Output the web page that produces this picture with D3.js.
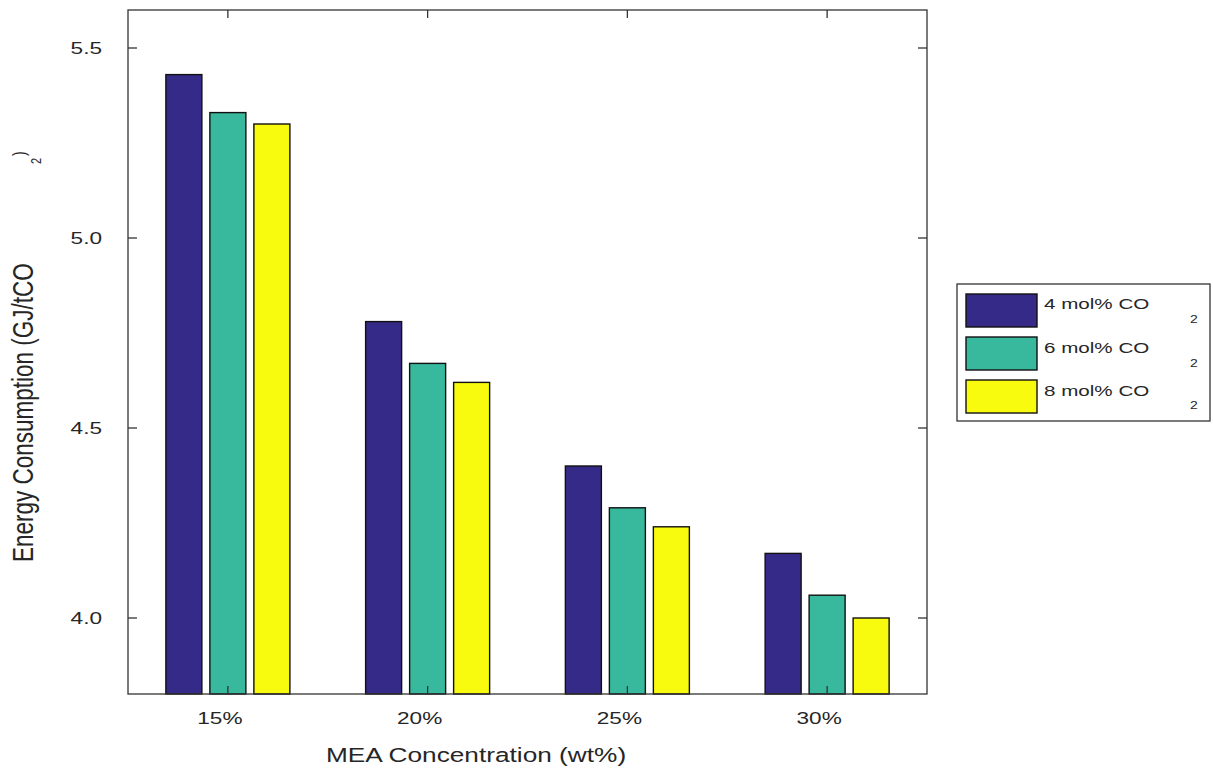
<!DOCTYPE html>
<html>
<head>
<meta charset="utf-8">
<script src="https://cdn.jsdelivr.net/npm/d3@7"></script>
<style>
  html, body { margin: 0; padding: 0; background: #fff; }
  svg { display: block; }
  text { font-family: "Liberation Sans", Arial, Helvetica, sans-serif; fill: #262626; }
</style>
</head>
<body>
<svg id="chart" width="1213" height="769"></svg>
<script>
// ---- data ----
const categories = ["15%", "20%", "25%", "30%"];
const seriesNames = ["4 mol% CO", "6 mol% CO", "8 mol% CO"];
const series4 = [5.43, 4.78, 4.40, 4.17];
const series6 = [5.33, 4.67, 4.29, 4.06];
const series8 = [5.30, 4.62, 4.24, 4.00];
const yTicks = [4.0, 4.5, 5.0, 5.5];
const colors = ["#352a87", "#38b99e", "#f9fb0e"];
const yLabel = "Energy Consumption (GJ/tCO";
const xLabel = "MEA Concentration (wt%)";

(function () {
const allSeries = [series4, series6, series8];
const svg = d3.select("#chart");
const SX = 1.33; // horizontal stretch of text seen in the reference

const pL = 128, pR = 927, pT = 10, pB = 694;

const x0 = d3.scaleBand().domain(categories).range([pL, pR]).paddingInner(0).paddingOuter(0);
const x1 = d3.scaleBand().domain(d3.range(seriesNames.length))
  .range([-66, 66]).paddingInner(8 / 44).paddingOuter(4 / 44);
const y = d3.scaleLinear().domain([3.8, 5.6]).range([pB, pT]);

// bars
categories.forEach((c, ci) => {
  allSeries.forEach((s, si) => {
    const cx = x0(c) + x0.bandwidth() / 2;
    svg.append("rect")
      .attr("x", cx + x1(si))
      .attr("y", y(s[ci]))
      .attr("width", x1.bandwidth())
      .attr("height", y(3.8) - y(s[ci]))
      .attr("fill", colors[si])
      .attr("stroke", "#111")
      .attr("stroke-width", 1.4);
  });
});

// axes box
const axisColor = "#333";
svg.append("rect")
  .attr("x", pL).attr("y", pT)
  .attr("width", pR - pL).attr("height", pB - pT)
  .attr("fill", "none").attr("stroke", axisColor).attr("stroke-width", 1.3);

// y ticks (left and right, inward)
yTicks.forEach(t => {
  const yy = y(t);
  svg.append("line").attr("x1", pL).attr("x2", pL + 9).attr("y1", yy).attr("y2", yy)
    .attr("stroke", axisColor).attr("stroke-width", 1.3);
  svg.append("line").attr("x1", pR).attr("x2", pR - 9).attr("y1", yy).attr("y2", yy)
    .attr("stroke", axisColor).attr("stroke-width", 1.3);
  svg.append("text")
    .attr("transform", `translate(102,${yy}) scale(${SX},1)`)
    .attr("text-anchor", "end")
    .attr("dominant-baseline", "central")
    .style("font-size", "17px")
    .text(t.toFixed(1));
});

// x ticks (top and bottom, inward) and labels
categories.forEach(c => {
  const cx = x0(c) + x0.bandwidth() / 2;
  svg.append("line").attr("x1", cx).attr("x2", cx).attr("y1", pT).attr("y2", pT + 8)
    .attr("stroke", axisColor).attr("stroke-width", 1.3);
  svg.append("line").attr("x1", cx).attr("x2", cx).attr("y1", pB).attr("y2", pB - 8)
    .attr("stroke", axisColor).attr("stroke-width", 1.3);
  svg.append("text")
    .attr("transform", `translate(${cx - 8},724) scale(${SX},1)`)
    .attr("text-anchor", "middle")
    .style("font-size", "17px")
    .text(c);
});

// x label
svg.append("text")
  .attr("transform", `translate(476,762) scale(1.28,1)`)
  .attr("text-anchor", "middle")
  .style("font-size", "20.5px")
  .text(xLabel);

// y label (with oddly placed subscript and paren as in reference)
svg.append("text")
  .attr("transform", `translate(33,562) scale(${SX},1) rotate(-90)`)
  .attr("text-anchor", "start")
  .style("font-size", "22.5px")
  .text(yLabel);
svg.append("text")
  .attr("transform", `translate(41,164) scale(${SX},1) rotate(-90)`)
  .attr("text-anchor", "start")
  .style("font-size", "11px")
  .text("2");
svg.append("text")
  .attr("transform", `translate(25,156) scale(${SX},1) rotate(-90)`)
  .attr("text-anchor", "start")
  .style("font-size", "14px")
  .text(")");

// legend
svg.append("rect")
  .attr("x", 957).attr("y", 284).attr("width", 253).attr("height", 137)
  .attr("fill", "#fff").attr("stroke", axisColor).attr("stroke-width", 1.3);
const swY = [294, 337, 380];
const txtY = [309, 353, 396];
const subY = [323, 367, 409];
seriesNames.forEach((n, i) => {
  svg.append("rect")
    .attr("x", 966).attr("y", swY[i]).attr("width", 71).attr("height", 33)
    .attr("fill", colors[i]).attr("stroke", "#111").attr("stroke-width", 1.4);
  svg.append("text")
    .attr("transform", `translate(1044,${txtY[i]}) scale(${SX},1)`)
    .style("font-size", "15.5px")
    .text(n);
  svg.append("text")
    .attr("transform", `translate(1190,${subY[i]}) scale(${SX},1)`)
    .style("font-size", "10.5px")
    .text("2");
});
})();
</script>
</body>
</html>
